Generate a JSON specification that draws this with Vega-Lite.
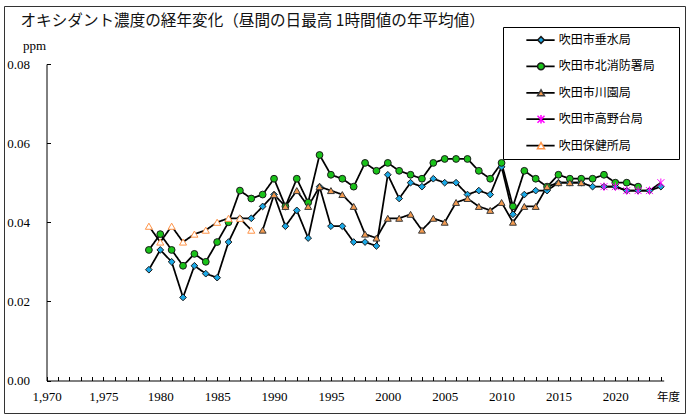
{
  "$schema": "https://vega.github.io/schema/vega-lite/v6.json",
  "width": 681,
  "height": 407,
  "autosize": {"type": "none"},
  "padding": {"left": 4, "top": 6, "right": 5, "bottom": 6},
  "background": "white",
  "view": {"stroke": "#333333", "strokeWidth": 1, "fill": "white"},
  "config": {
    "view": {"stroke": "#333333", "strokeWidth": 1},
    "axis": {"grid": false}
  },
  "data": {
    "values": [
      {"year": 1979, "station": "吹田市垂水局", "ppm": 0.028},
      {"year": 1980, "station": "吹田市垂水局", "ppm": 0.033},
      {"year": 1981, "station": "吹田市垂水局", "ppm": 0.030},
      {"year": 1982, "station": "吹田市垂水局", "ppm": 0.021},
      {"year": 1983, "station": "吹田市垂水局", "ppm": 0.029},
      {"year": 1984, "station": "吹田市垂水局", "ppm": 0.027},
      {"year": 1985, "station": "吹田市垂水局", "ppm": 0.026},
      {"year": 1986, "station": "吹田市垂水局", "ppm": 0.035},
      {"year": 1987, "station": "吹田市垂水局", "ppm": 0.041},
      {"year": 1988, "station": "吹田市垂水局", "ppm": 0.041},
      {"year": 1989, "station": "吹田市垂水局", "ppm": 0.044},
      {"year": 1990, "station": "吹田市垂水局", "ppm": 0.047},
      {"year": 1991, "station": "吹田市垂水局", "ppm": 0.039},
      {"year": 1992, "station": "吹田市垂水局", "ppm": 0.043},
      {"year": 1993, "station": "吹田市垂水局", "ppm": 0.036},
      {"year": 1994, "station": "吹田市垂水局", "ppm": 0.049},
      {"year": 1995, "station": "吹田市垂水局", "ppm": 0.039},
      {"year": 1996, "station": "吹田市垂水局", "ppm": 0.039},
      {"year": 1997, "station": "吹田市垂水局", "ppm": 0.035},
      {"year": 1998, "station": "吹田市垂水局", "ppm": 0.035},
      {"year": 1999, "station": "吹田市垂水局", "ppm": 0.034},
      {"year": 2000, "station": "吹田市垂水局", "ppm": 0.052},
      {"year": 2001, "station": "吹田市垂水局", "ppm": 0.046},
      {"year": 2002, "station": "吹田市垂水局", "ppm": 0.050},
      {"year": 2003, "station": "吹田市垂水局", "ppm": 0.049},
      {"year": 2004, "station": "吹田市垂水局", "ppm": 0.051},
      {"year": 2005, "station": "吹田市垂水局", "ppm": 0.050},
      {"year": 2006, "station": "吹田市垂水局", "ppm": 0.050},
      {"year": 2007, "station": "吹田市垂水局", "ppm": 0.047},
      {"year": 2008, "station": "吹田市垂水局", "ppm": 0.048},
      {"year": 2009, "station": "吹田市垂水局", "ppm": 0.047},
      {"year": 2010, "station": "吹田市垂水局", "ppm": 0.054},
      {"year": 2011, "station": "吹田市垂水局", "ppm": 0.042},
      {"year": 2012, "station": "吹田市垂水局", "ppm": 0.047},
      {"year": 2013, "station": "吹田市垂水局", "ppm": 0.048},
      {"year": 2014, "station": "吹田市垂水局", "ppm": 0.048},
      {"year": 2015, "station": "吹田市垂水局", "ppm": 0.050},
      {"year": 2016, "station": "吹田市垂水局", "ppm": 0.050},
      {"year": 2017, "station": "吹田市垂水局", "ppm": 0.050},
      {"year": 2018, "station": "吹田市垂水局", "ppm": 0.049},
      {"year": 2019, "station": "吹田市垂水局", "ppm": 0.049},
      {"year": 2020, "station": "吹田市垂水局", "ppm": 0.049},
      {"year": 2021, "station": "吹田市垂水局", "ppm": 0.048},
      {"year": 2022, "station": "吹田市垂水局", "ppm": 0.048},
      {"year": 2023, "station": "吹田市垂水局", "ppm": 0.048},
      {"year": 2024, "station": "吹田市垂水局", "ppm": 0.049},

      {"year": 1979, "station": "吹田市北消防署局", "ppm": 0.033},
      {"year": 1980, "station": "吹田市北消防署局", "ppm": 0.037},
      {"year": 1981, "station": "吹田市北消防署局", "ppm": 0.033},
      {"year": 1982, "station": "吹田市北消防署局", "ppm": 0.029},
      {"year": 1983, "station": "吹田市北消防署局", "ppm": 0.032},
      {"year": 1984, "station": "吹田市北消防署局", "ppm": 0.030},
      {"year": 1985, "station": "吹田市北消防署局", "ppm": 0.035},
      {"year": 1986, "station": "吹田市北消防署局", "ppm": 0.040},
      {"year": 1987, "station": "吹田市北消防署局", "ppm": 0.048},
      {"year": 1988, "station": "吹田市北消防署局", "ppm": 0.046},
      {"year": 1989, "station": "吹田市北消防署局", "ppm": 0.047},
      {"year": 1990, "station": "吹田市北消防署局", "ppm": 0.051},
      {"year": 1991, "station": "吹田市北消防署局", "ppm": 0.044},
      {"year": 1992, "station": "吹田市北消防署局", "ppm": 0.051},
      {"year": 1993, "station": "吹田市北消防署局", "ppm": 0.045},
      {"year": 1994, "station": "吹田市北消防署局", "ppm": 0.057},
      {"year": 1995, "station": "吹田市北消防署局", "ppm": 0.052},
      {"year": 1996, "station": "吹田市北消防署局", "ppm": 0.051},
      {"year": 1997, "station": "吹田市北消防署局", "ppm": 0.049},
      {"year": 1998, "station": "吹田市北消防署局", "ppm": 0.055},
      {"year": 1999, "station": "吹田市北消防署局", "ppm": 0.053},
      {"year": 2000, "station": "吹田市北消防署局", "ppm": 0.055},
      {"year": 2001, "station": "吹田市北消防署局", "ppm": 0.053},
      {"year": 2002, "station": "吹田市北消防署局", "ppm": 0.052},
      {"year": 2003, "station": "吹田市北消防署局", "ppm": 0.051},
      {"year": 2004, "station": "吹田市北消防署局", "ppm": 0.055},
      {"year": 2005, "station": "吹田市北消防署局", "ppm": 0.056},
      {"year": 2006, "station": "吹田市北消防署局", "ppm": 0.056},
      {"year": 2007, "station": "吹田市北消防署局", "ppm": 0.056},
      {"year": 2008, "station": "吹田市北消防署局", "ppm": 0.053},
      {"year": 2009, "station": "吹田市北消防署局", "ppm": 0.051},
      {"year": 2010, "station": "吹田市北消防署局", "ppm": 0.055},
      {"year": 2011, "station": "吹田市北消防署局", "ppm": 0.044},
      {"year": 2012, "station": "吹田市北消防署局", "ppm": 0.053},
      {"year": 2013, "station": "吹田市北消防署局", "ppm": 0.051},
      {"year": 2014, "station": "吹田市北消防署局", "ppm": 0.049},
      {"year": 2015, "station": "吹田市北消防署局", "ppm": 0.052},
      {"year": 2016, "station": "吹田市北消防署局", "ppm": 0.051},
      {"year": 2017, "station": "吹田市北消防署局", "ppm": 0.051},
      {"year": 2018, "station": "吹田市北消防署局", "ppm": 0.051},
      {"year": 2019, "station": "吹田市北消防署局", "ppm": 0.052},
      {"year": 2020, "station": "吹田市北消防署局", "ppm": 0.050},
      {"year": 2021, "station": "吹田市北消防署局", "ppm": 0.050},
      {"year": 2022, "station": "吹田市北消防署局", "ppm": 0.049},

      {"year": 1989, "station": "吹田市川園局", "ppm": 0.038},
      {"year": 1990, "station": "吹田市川園局", "ppm": 0.047},
      {"year": 1991, "station": "吹田市川園局", "ppm": 0.044},
      {"year": 1992, "station": "吹田市川園局", "ppm": 0.048},
      {"year": 1993, "station": "吹田市川園局", "ppm": 0.044},
      {"year": 1994, "station": "吹田市川園局", "ppm": 0.049},
      {"year": 1995, "station": "吹田市川園局", "ppm": 0.048},
      {"year": 1996, "station": "吹田市川園局", "ppm": 0.047},
      {"year": 1997, "station": "吹田市川園局", "ppm": 0.044},
      {"year": 1998, "station": "吹田市川園局", "ppm": 0.037},
      {"year": 1999, "station": "吹田市川園局", "ppm": 0.036},
      {"year": 2000, "station": "吹田市川園局", "ppm": 0.041},
      {"year": 2001, "station": "吹田市川園局", "ppm": 0.041},
      {"year": 2002, "station": "吹田市川園局", "ppm": 0.042},
      {"year": 2003, "station": "吹田市川園局", "ppm": 0.038},
      {"year": 2004, "station": "吹田市川園局", "ppm": 0.041},
      {"year": 2005, "station": "吹田市川園局", "ppm": 0.040},
      {"year": 2006, "station": "吹田市川園局", "ppm": 0.045},
      {"year": 2007, "station": "吹田市川園局", "ppm": 0.046},
      {"year": 2008, "station": "吹田市川園局", "ppm": 0.044},
      {"year": 2009, "station": "吹田市川園局", "ppm": 0.043},
      {"year": 2010, "station": "吹田市川園局", "ppm": 0.045},
      {"year": 2011, "station": "吹田市川園局", "ppm": 0.040},
      {"year": 2012, "station": "吹田市川園局", "ppm": 0.044},
      {"year": 2013, "station": "吹田市川園局", "ppm": 0.044},
      {"year": 2014, "station": "吹田市川園局", "ppm": 0.049},
      {"year": 2015, "station": "吹田市川園局", "ppm": 0.050},
      {"year": 2016, "station": "吹田市川園局", "ppm": 0.050},
      {"year": 2017, "station": "吹田市川園局", "ppm": 0.050},

      {"year": 2019, "station": "吹田市高野台局", "ppm": 0.049},
      {"year": 2020, "station": "吹田市高野台局", "ppm": 0.049},
      {"year": 2021, "station": "吹田市高野台局", "ppm": 0.048},
      {"year": 2022, "station": "吹田市高野台局", "ppm": 0.048},
      {"year": 2023, "station": "吹田市高野台局", "ppm": 0.048},
      {"year": 2024, "station": "吹田市高野台局", "ppm": 0.050},

      {"year": 1979, "station": "吹田保健所局", "ppm": 0.039},
      {"year": 1980, "station": "吹田保健所局", "ppm": 0.035},
      {"year": 1981, "station": "吹田保健所局", "ppm": 0.039},
      {"year": 1982, "station": "吹田保健所局", "ppm": 0.035},
      {"year": 1983, "station": "吹田保健所局", "ppm": 0.037},
      {"year": 1984, "station": "吹田保健所局", "ppm": 0.038},
      {"year": 1985, "station": "吹田保健所局", "ppm": 0.040},
      {"year": 1986, "station": "吹田保健所局", "ppm": 0.041},
      {"year": 1987, "station": "吹田保健所局", "ppm": 0.041},
      {"year": 1988, "station": "吹田保健所局", "ppm": 0.038}
    ]
  },
  "encoding": {
    "x": {
      "field": "year", "type": "quantitative",
      "scale": {"domain": [1970, 2024.25], "range": [42.5, 659.7], "nice": false, "zero": false},
      "axis": {
        "orient": "bottom", "offset": -32.5,
        "values": [1970,1971,1972,1973,1974,1975,1976,1977,1978,1979,1980,1981,1982,1983,1984,1985,1986,1987,1988,1989,1990,1991,1992,1993,1994,1995,1996,1997,1998,1999,2000,2001,2002,2003,2004,2005,2006,2007,2008,2009,2010,2011,2012,2013,2014,2015,2016,2017,2018,2019,2020,2021,2022,2023,2024],
        "labelExpr": "datum.value % 5 === 0 ? (datum.value < 1980 ? format(datum.value, ',') : format(datum.value, 'd')) : ''",
        "labelOverlap": false, "labelFlush": false, "labelBound": false, "labelSeparation": 0,
        "tickSize": -4, "tickColor": "#000", "domainColor": "#000",
        "labelPadding": 14, "labelFont": "Liberation Sans Narrow", "labelFontSize": 13, "labelColor": "#000",
        "title": "年度", "titleX": 664, "titleY": 16.5, "titleAlign": "center", "titleBaseline": "middle",
        "titleFont": "Noto Sans CJK JP", "titleFontSize": 11.5, "titleFontWeight": "normal", "titleColor": "#000"
      }
    },
    "y": {
      "field": "ppm", "type": "quantitative",
      "scale": {"domain": [0, 0.08], "range": [374.5, 58], "nice": false},
      "axis": {
        "orient": "left", "offset": -42.5,
        "values": [0, 0.02, 0.04, 0.06, 0.08], "format": ".2f",
        "tickSize": -4, "tickColor": "#000", "domainColor": "#000",
        "labelPadding": 21, "labelFont": "Liberation Sans Narrow", "labelFontSize": 13, "labelColor": "#000",
        "title": "ppm", "titleAngle": 0, "titleX": -12.5, "titleY": 39, "titleAlign": "center", "titleBaseline": "middle",
        "titleFont": "Liberation Sans Narrow", "titleFontSize": 13, "titleFontWeight": "normal", "titleColor": "#000"
      }
    }
  },
  "layer": [
    {
      "mark": {"type": "line", "color": "#000", "strokeWidth": 1.75},
      "encoding": {
        "x": {
          "field": "year", "type": "quantitative",
          "axis": {
            "orient": "top", "domain": false, "ticks": false, "labels": false, "grid": false,
            "title": "オキシダント濃度の経年変化（昼間の日最高 1時間値の年平均値）",
            "titleX": 16, "titleY": 14, "titleAlign": "left", "titleBaseline": "middle", "titleAngle": 0,
            "titleLimit": 2000,
            "titleFont": "Noto Sans CJK JP", "titleFontSize": 15.6, "titleFontWeight": "normal", "titleColor": "#111"
          }
        },
        "strokeDash": {
          "field": "station", "type": "nominal",
          "sort": ["吹田市垂水局", "吹田市北消防署局", "吹田市川園局", "吹田市高野台局", "吹田保健所局"],
          "scale": {"range": [[1, 0], [1, 0], [1, 0], [1, 0], [1, 0]]},
          "legend": {
            "orient": "none", "legendX": 499, "legendY": 21, "zindex": 1, "title": null,
            "padding": 6, "symbolOffset": 16, "symbolSize": 800, "symbolType": "stroke",
            "symbolStrokeColor": "#000", "symbolStrokeWidth": 1.75,
            "clipHeight": 14, "rowPadding": 12.4,
            "labelExpr": "''", "labelOffset": 116.7, "labelFontSize": 12,
            "strokeColor": "#000", "fillColor": "white"
          }
        }
      }
    },
    {
      "mark": {"type": "point", "filled": true, "opacity": 1, "strokeWidth": 1},
      "encoding": {
        "shape": {
          "field": "station", "type": "nominal",
          "scale": {"domain": ["吹田市垂水局", "吹田市北消防署局", "吹田市川園局", "吹田市高野台局", "吹田保健所局"], "range": ["diamond", "circle", "triangle-up", "M-1,-1L1,1M-1,1L1,-1M0,-1.2L0,1.2", "triangle-up"]},
          "legend": {
            "orient": "none", "legendX": 499, "legendY": 21, "zindex": 2, "title": null,
            "padding": 6, "symbolOffset": 26, "clipHeight": 14, "rowPadding": 12.4,
            "labelFont": "Noto Sans CJK JP", "labelFontSize": 12, "labelOffset": 11.8, "labelColor": "#000"
          }
        },
        "fill": {
          "field": "station", "type": "nominal",
          "scale": {"domain": ["吹田市垂水局", "吹田市北消防署局", "吹田市川園局", "吹田市高野台局", "吹田保健所局"], "range": ["#1aa8e6", "#19c219", "#f39a4f", "transparent", "#ffffff"]},
          "legend": {
            "orient": "none", "legendX": 499, "legendY": 21, "zindex": 2, "title": null,
            "padding": 6, "symbolOffset": 26, "clipHeight": 14, "rowPadding": 12.4,
            "labelFont": "Noto Sans CJK JP", "labelFontSize": 12, "labelOffset": 11.8, "labelColor": "#000"
          }
        },
        "stroke": {
          "field": "station", "type": "nominal",
          "scale": {"domain": ["吹田市垂水局", "吹田市北消防署局", "吹田市川園局", "吹田市高野台局", "吹田保健所局"], "range": ["#1a1a1a", "#1a1a1a", "#3a3a3a", "#ff00ff", "#ff9448"]},
          "legend": {
            "orient": "none", "legendX": 499, "legendY": 21, "zindex": 2, "title": null,
            "padding": 6, "symbolOffset": 26, "clipHeight": 14, "rowPadding": 12.4,
            "labelFont": "Noto Sans CJK JP", "labelFontSize": 12, "labelOffset": 11.8, "labelColor": "#000"
          }
        },
        "size": {
          "field": "station", "type": "nominal",
          "scale": {"domain": ["吹田市垂水局", "吹田市北消防署局", "吹田市川園局", "吹田市高野台局", "吹田保健所局"], "range": [45, 50, 55, 90, 70]},
          "legend": {
            "orient": "none", "legendX": 499, "legendY": 21, "zindex": 2, "title": null,
            "padding": 6, "symbolOffset": 26, "clipHeight": 14, "rowPadding": 12.4,
            "labelFont": "Noto Sans CJK JP", "labelFontSize": 12, "labelOffset": 11.8, "labelColor": "#000"
          }
        }
      }
    }
  ]
}
